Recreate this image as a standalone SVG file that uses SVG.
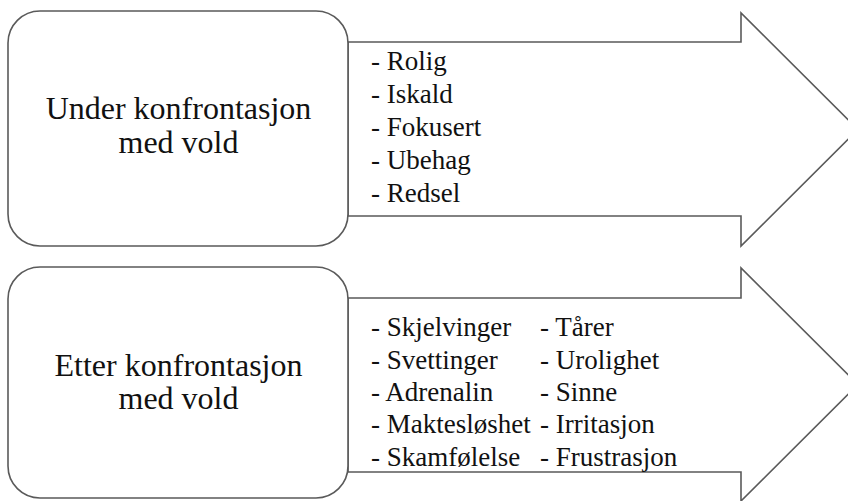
<svg xmlns="http://www.w3.org/2000/svg" width="848" height="501" viewBox="0 0 848 501">
<style>
.shape{fill:#ffffff;stroke:#5a5a5a;stroke-width:1.6;stroke-linejoin:miter}
.title{font-family:'Liberation Serif','Times New Roman',serif;font-size:32px;fill:#111;text-anchor:middle}
.item{font-family:'Liberation Serif','Times New Roman',serif;font-size:27px;fill:#111}
</style>
<rect width="848" height="501" fill="#ffffff"/>
<g id="arrow-under">
<polygon class="shape" points="348,42 741,42 741,13 858,129.5 741,246 741,216 348,216"/>
<text class="item" x="371" y="70">- Rolig</text>
<text class="item" x="371" y="103">- Iskald</text>
<text class="item" x="371" y="136">- Fokusert</text>
<text class="item" x="371" y="169">- Ubehag</text>
<text class="item" x="371" y="202">- Redsel</text>
</g>
<g id="box-under">
<rect class="shape" x="8" y="11" width="340" height="235" rx="32" ry="32"/>
<text class="title" x="178.5" y="119">Under konfrontasjon</text>
<text class="title" x="178.5" y="153">med vold</text>
</g>
<g id="arrow-etter">
<polygon class="shape" points="348,298 741,298 741,268 858,384.5 741,501 741,472 348,472"/>
<text class="item" x="371" y="336">- Skjelvinger</text>
<text class="item" x="371" y="369">- Svettinger</text>
<text class="item" x="371" y="401">- Adrenalin</text>
<text class="item" x="371" y="433">- Maktesløshet</text>
<text class="item" x="371" y="466">- Skamfølelse</text>
<text class="item" x="540" y="336">- Tårer</text>
<text class="item" x="540" y="369">- Urolighet</text>
<text class="item" x="540" y="401">- Sinne</text>
<text class="item" x="540" y="433">- Irritasjon</text>
<text class="item" x="540" y="466">- Frustrasjon</text>
</g>
<g id="box-etter">
<rect class="shape" x="8" y="267" width="340" height="231" rx="32" ry="32"/>
<text class="title" x="178.5" y="376">Etter konfrontasjon</text>
<text class="title" x="178.5" y="409">med vold</text>
</g>
</svg>
